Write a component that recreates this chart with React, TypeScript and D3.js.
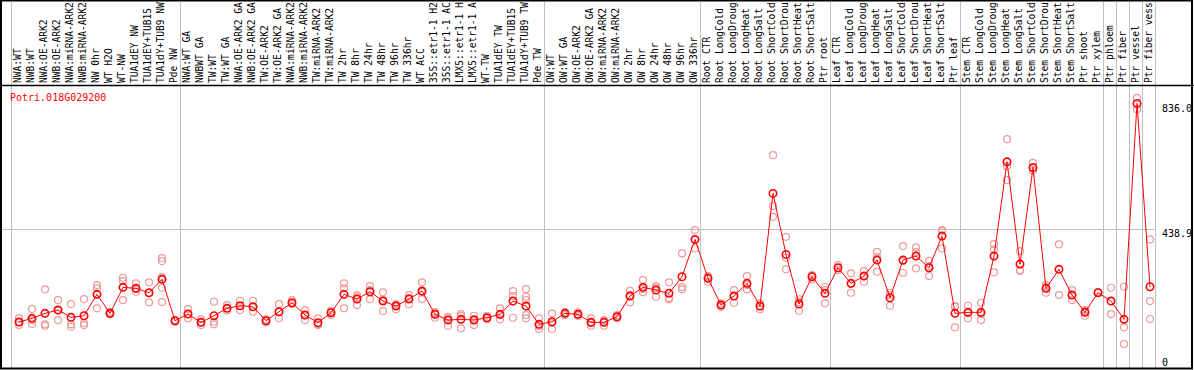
import React from "react";
import * as d3 from "d3";

const title = "Potri.018G029200";

const categories: string[] = [
  "NWA:WT", "NWB:WT", "NWA:OE-ARK2", "NWB:OE-ARK2", "NWA:miRNA-ARK2", "NWB:miRNA-ARK2", "NW 0hr", "WT H2O", "WT-NW", "TUA1dEY NW", "TUA1dEY+TUB15", "TUA1dY+TUB9 NW", "Pde NW",
  "NWA:WT GA", "NWBWT GA", "TW:WT", "TW:WT GA", "NWA:OE-ARK2 GA", "NWB:OE-ARK2 GA", "TW:OE-ARK2", "TW:OE-ARK2 GA", "NWA:miRNA-ARK2", "NWB:miRNA-ARK2", "TW:miRNA-ARK2", "TW:miRNA-ARK2", "TW 2hr", "TW 8hr", "TW 24hr", "TW 48hr", "TW 96hr", "TW 336hr", "WT ACC", "35S::etr1-1 H2", "35S::etr1-1 AC", "LMX5::etr1-1 H", "LMX5::etr1-1 A", "WT-TW", "TUA1dEY TW", "TUA1dEY+TUB15", "TUA1dY+TUB9 TW", "Pde TW",
  "OW:WT", "OW:WT GA", "OW:OE-ARK2", "OW:OE-ARK2 GA", "OW:miRNA-ARK2", "OW:miRNA-ARK2", "OW 2hr", "OW 8hr", "OW 24hr", "OW 48hr", "OW 96hr", "OW 336hr",
  "Root CTR", "Root LongCold", "Root LongDroug", "Root LongHeat", "Root LongSalt", "Root ShortCold", "Root ShortDrou", "Root ShortHeat", "Root ShortSalt", "Ptr root",
  "Leaf CTR", "Leaf LongCold", "Leaf LongDroug", "Leaf LongHeat", "Leaf LongSalt", "Leaf ShortCold", "Leaf ShortDrou", "Leaf ShortHeat", "Leaf ShortSalt", "Ptr leaf",
  "Stem CTR", "Stem LongCold", "Stem LongDroug", "Stem LongHeat", "Stem LongSalt", "Stem ShortCold", "Stem ShortDrou", "Stem ShortHeat", "Stem ShortSalt", "Ptr shoot", "Ptr xylem",
  "Ptr phloem", "Ptr fiber", "Ptr vessel", "Ptr fiber vess",
];

const groupSizes: number[] = [13, 28, 12, 10, 10, 11, 1, 1, 1, 1];

const means: number[] = [
  145.3, 157.0, 172.8, 183.2, 160.1, 165.2, 232.8, 172.8, 254.9, 251.7, 237.8, 280.2, 149.4,
  170.6, 144.3, 165.2, 188.6, 196.8, 193.6, 149.4, 177.8, 206.3, 167.4, 143.1, 174.7, 232.8, 217.9, 241.0, 211.6, 195.8, 217.9, 243.2, 169.6, 151.6, 153.8, 151.6, 158.9, 169.6, 211.6, 195.8, 138.0,
  146.2, 172.8, 169.6, 144.3, 144.3, 162.0, 227.4, 254.9, 246.4, 236.0, 288.4, 406.5,
  283.3, 199.0, 227.4, 267.5, 195.8, 551.8, 359.1, 202.2, 288.4, 236.0,
  316.8, 267.5, 290.6, 341.1, 222.1, 341.1, 353.8, 316.8, 416.9, 172.8,
  175.9, 175.9, 353.8, 651.6, 328.5, 633.9, 251.7, 311.8, 230.6, 175.9, 237.8,
  211.6, 153.8, 836.0, 256.8,
];

const replicates: number[][] = [
  [157.9, 145.3, 135.8], [186.4, 151.6, 139.0], [248.6, 138.0, 133.6], [214.8, 183.2, 151.6], [202.2, 138.0, 130.4], [217.9, 142.1, 135.8], [262.2, 251.7, 188.6], [177.8, 172.8, 169.6], [285.2, 274.8, 214.8], [267.5, 249.5, 241.0], [270.7, 236.9, 207.5], [347.4, 338.0, 287.4, 253.6, 208.5], [151.6, 146.2, 151.6],
  [186.4, 170.6, 157.0], [153.8, 144.3, 135.8], [209.4, 146.2, 138.0], [199.0, 188.6, 181.0], [212.6, 195.8, 183.2], [212.6, 192.7, 177.8], [153.8, 144.3, 149.4], [202.2, 176.9, 157.0], [214.8, 202.2, 205.3], [183.2, 167.4, 151.6], [157.0, 135.8, 139.0], [181.0, 167.4, 176.9], [267.5, 251.7, 188.6], [230.6, 199.0, 224.3], [259.0, 217.0, 246.4], [239.1, 180.0, 215.0], [202.2, 185.4, 199.0], [230.6, 201.2, 221.1], [270.7, 217.9, 240.1], [172.8, 158.9, 176.9], [158.9, 133.6, 161.1], [170.6, 125.4, 164.2], [165.2, 135.8, 154.8], [165.2, 153.8, 157.9], [188.6, 153.8, 167.4], [243.2, 227.4, 158.9], [249.5, 225.2, 214.8, 167.4, 157.0], [157.0, 123.2, 132.7],
  [172.8, 123.2, 142.1], [176.9, 172.8, 167.4], [175.9, 169.6, 164.2], [157.0, 133.6, 142.1], [151.6, 133.6, 148.5], [167.4, 157.0, 161.1], [244.2, 207.5, 230.6], [278.0, 239.1, 249.5], [259.0, 225.2, 252.7], [270.7, 217.0, 221.1], [362.3, 248.6, 255.8], [435.9, 378.1, 404.3],
  [290.6, 272.6, 287.4], [204.4, 193.6, 199.0], [246.4, 206.3, 227.4], [290.6, 248.6, 262.2], [204.4, 186.4, 195.8], [672.8, 511.7, 477.9], [414.7, 348.4, 311.8], [217.0, 181.0, 208.5], [293.7, 280.2, 290.6], [256.8, 204.4, 246.4],
  [325.3, 309.5, 315.9], [299.1, 237.8, 265.3], [306.4, 272.6, 290.6], [367.3, 304.2, 350.6], [237.8, 196.8, 230.6], [385.3, 301.0, 338.0], [381.2, 314.9, 366.4], [338.9, 290.6, 322.2], [435.9, 378.1, 432.7], [193.6, 128.6, 195.8],
  [196.8, 157.0, 173.7], [206.3, 151.6, 170.6], [391.7, 374.9, 302.3], [723.3, 593.8, 638.0], [369.6, 307.3, 309.5], [648.5, 623.2, 631.7], [262.2, 237.8, 255.8], [390.7, 230.6], [246.4, 214.8, 230.6], [183.2, 165.2, 180.0], [240.1, 237.8],
  [253.6, 170.6], [256.8, 128.6, 75.8], [853.8, 818.1], [406.5, 211.6, 154.8],
];

const axisTicks: number[] = [836.0, 438.9, 0];
const gridValues: number[] = [438.9];

const W = 1194;
const H = 370;
const FONT = "'DejaVu Sans Mono', 'Liberation Mono', monospace";

export default function App() {
  const plotLeft = 11;
  const plotRight = 1155;
  const headerBottom = 85;
  const plotBottom = 368;

  const idx = d3.range(categories.length).map(String);
  const xBand = d3.scaleBand<string>().domain(idx).range([plotLeft, plotRight]).padding(0);
  const px = (i: number) => (xBand(String(i)) as number) + 8;
  const y = d3.scaleLinear().domain([0, 894.5]).range([plotBottom, headerBottom]);

  const starts: number[] = [];
  let acc = 0;
  for (const g of groupSizes) {
    starts.push(acc);
    acc += g;
  }
  const boundaryXs = [...starts.map((s) => xBand(String(s)) as number), plotRight];

  const line = d3
    .line<number>()
    .x((_, i) => px(i))
    .y((d) => y(d));

  return (
    <svg
      width={W}
      height={H}
      style={{ position: "absolute", left: 0, top: 0, background: "#fff" }}
    >
      <rect x={0} y={0} width={W} height={H} fill="#fff" />
      {boundaryXs.map((bx, i) => (
        <line key={"v" + i} x1={bx + 0.5} x2={bx + 0.5} y1={0} y2={plotBottom} stroke="#c0c0c0" strokeWidth={1} />
      ))}
      {gridValues.map((g, i) => (
        <line key={"h" + i} x1={plotLeft - 10} x2={plotRight} y1={Math.round(y(g)) + 0.5} y2={Math.round(y(g)) + 0.5} stroke="#c0c0c0" strokeWidth={1} />
      ))}
      <g>
        {categories.map((c, i) => (
          <text
            key={"l" + i}
            transform={`translate(${px(i) + 2},83) rotate(-90)`}
            fontFamily={FONT}
            fontSize={9.6}
            fill="#000"
          >
            {c}
          </text>
        ))}
      </g>
      <line x1={0} x2={W} y1={headerBottom + 0.5} y2={headerBottom + 0.5} stroke="#000" strokeWidth={1.5} />
      <rect x={1} y={0.5} width={1191} height={plotBottom} fill="none" stroke="#000" strokeWidth={2} />
      <text x={10} y={101} fontFamily={FONT} fontSize={10} fill="#ff0000">
        {title}
      </text>
      {replicates.map((reps, i) =>
        reps.map((v, j) => (
          <circle key={`r${i}-${j}`} cx={px(i)} cy={y(v)} r={3.5} fill="none" stroke="#ee9a9a" strokeWidth={1.2} />
        ))
      )}
      <path d={line(means) || ""} fill="none" stroke="#ff0000" strokeWidth={1} />
      {means.map((v, i) => (
        <circle key={"m" + i} cx={px(i)} cy={y(v)} r={3.7} fill="none" stroke="#ff0000" strokeWidth={1.6} />
      ))}
      {axisTicks.map((t, i) => (
        <text
          key={"t" + i}
          x={1162}
          y={Math.min(y(t), 358) + 8}
          fontFamily={FONT}
          fontSize={10}
          fill="#000"
        >
          {t === 0 ? "0" : t.toFixed(1)}
        </text>
      ))}
    </svg>
  );
}
